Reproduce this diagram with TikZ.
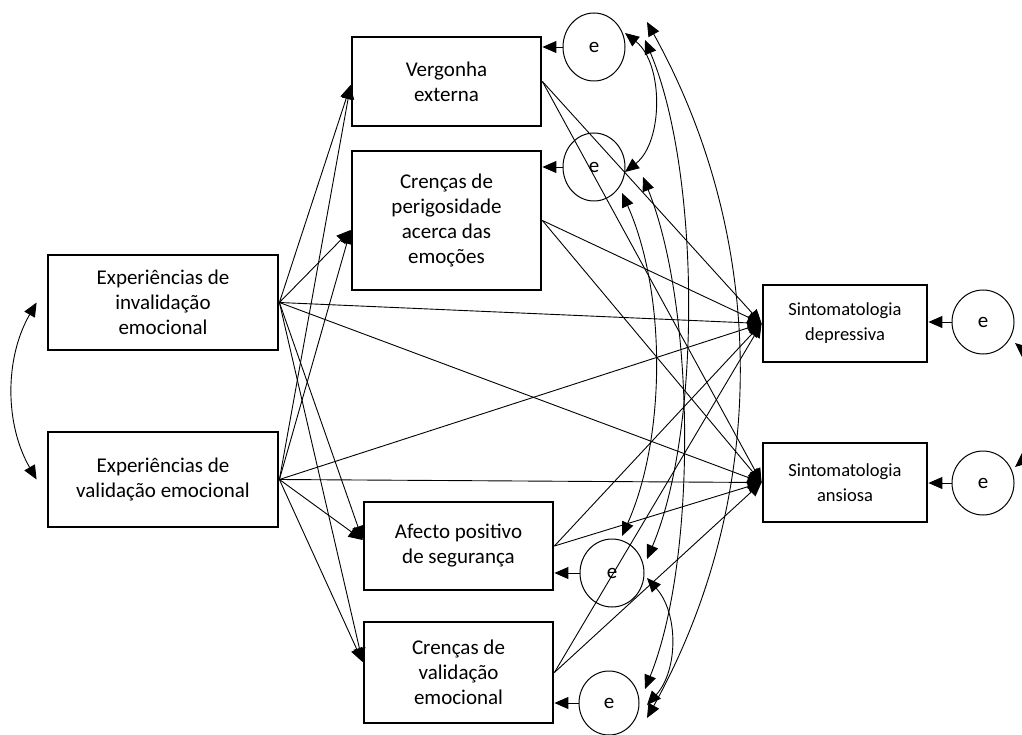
\documentclass[tikz,border=0pt]{standalone}
\usepackage{fontspec}
\setmainfont{Carlito}
\usetikzlibrary{arrows.meta,shapes.geometric,calc}

\begin{document}
\begin{tikzpicture}[x=1pt,y=-1pt,
  tip/.tip={Triangle[length=14pt,width=12pt]},
  box/.style={draw, line width=2.8pt, inner sep=0pt, align=center,
    font=\fontsize{21}{25}\selectfont},
  outbox/.style={box, font=\fontsize{18.5}{25}\selectfont},
  err/.style={draw, ellipse, line width=1pt, inner sep=0pt,
    font=\fontsize{21}{24}\selectfont},
  reg/.style={line width=0.9pt, -tip},
  cov/.style={line width=0.9pt, tip-tip},
]
\fill[white] (0,0) rectangle (1022,735);
\useasboundingbox (0,0) rectangle (1022,735);

% exogenous variables
\node[box, minimum width=230pt, minimum height=95pt] (inv) at (163,302.5)
  {Experiências de\\invalidação\\emocional};
\node[box, minimum width=230pt, minimum height=95pt] (val) at (163,479.5)
  {Experiências de\\validação emocional};

% mediators
\node[box, minimum width=189pt, minimum height=89pt] (verg) at (446.5,81.5)
  {Vergonha\\externa};
\node[box, minimum width=189pt, minimum height=139pt] (per) at (446.5,220.5)
  {Crenças de\\perigosidade\\acerca das\\emoções};
\node[box, minimum width=189pt, minimum height=88pt] (afe) at (458.5,546)
  {Afecto positivo\\de segurança};
\node[box, minimum width=189pt, minimum height=101pt] (cval) at (458.5,672.5)
  {Crenças de\\validação\\emocional};

% outcomes
\node[outbox, minimum width=164pt, minimum height=77pt] (dep) at (845,323.5)
  {Sintomatologia\\depressiva};
\node[outbox, minimum width=164pt, minimum height=79pt] (ans) at (845,482.5)
  {Sintomatologia\\ansiosa};

% residual terms
\node[err, minimum width=62pt, minimum height=68pt] (e1) at (594,47) {e};
\node[err, minimum width=62pt, minimum height=68pt] (e2) at (594,167) {e};
\node[err, minimum width=64pt, minimum height=68pt] (e3) at (612,573) {e};
\node[err, minimum width=60pt, minimum height=64pt] (e4) at (609,703) {e};
\node[err, minimum width=62pt, minimum height=64pt] (e5) at (983,322) {e};
\node[err, minimum width=62pt, minimum height=64pt] (e6) at (983,483) {e};

% residuals into their variables
\draw[reg] (e1.west) -- (e1.west -| verg.east);
\draw[reg] (e2.west) -- (e2.west -| per.east);
\draw[reg] (e3.west) -- (e3.west -| afe.east);
\draw[reg] (e4.west) -- (e4.west -| cval.east);
\draw[reg] (e5.west) -- (e5.west -| dep.east);
\draw[reg] (e6.west) -- (e6.west -| ans.east);

% direct paths from the two exogenous variables
\foreach \s in {inv,val}{
  \draw[reg] (\s.east) -- ([yshift=-3.5pt]verg.west);
  \draw[reg] (\s.east) -- ([yshift=-9.5pt]per.west);
  \draw[reg] (\s.east) -- ([yshift=6pt]afe.west);
  \draw[reg] (\s.east) -- ([yshift=10.5pt]cval.west);
  \draw[reg] (\s.east) -- (dep.west);
  \draw[reg] (\s.east) -- (ans.west);
}

% mediators to outcomes
\foreach \m in {verg,per,afe,cval}{
  \draw[reg] (\m.east) -- (dep.west);
  \draw[reg] (\m.east) -- (ans.west);
}

% covariance of the exogenous variables
\draw[cov] ([xshift=-10pt]inv.west) to[out=240,in=120,distance=64pt]
  ([xshift=-10pt]val.west);

% ends of the residual covariances
\coordinate (a1) at ($(e1)+(31,-14)$);
\coordinate (b1) at ($(e1)+(51,-7)$);
\coordinate (c1) at ($(e1)+(53,-25)$);
\coordinate (a2) at ($(e2)+(31,5)$);
\coordinate (d2) at ($(e2)+(49,10)$);
\coordinate (f2) at ($(e2)+(28,26)$);
\coordinate (f3) at ($(e3)+(10,-37)$);
\coordinate (b3) at ($(e3)+(35,-14)$);
\coordinate (g3) at ($(e3)+(35,5)$);
\coordinate (d4) at ($(e4)+(36,-14)$);
\coordinate (g4) at ($(e4)+(38,2)$);
\coordinate (c4) at ($(e4)+(38,15)$);

\draw[cov] (a1) to[out=-38,in=38,distance=49pt] (a2);
\draw[cov] (b1) to[out=-67,in=67,distance=141pt] (b3);
\draw[cov] (c1) to[out=-61,in=61,distance=252pt] (c4);
\draw[cov] (d2) to[out=-68,in=68,distance=140pt] (d4);
\draw[cov] (f2) to[out=-66,in=66,distance=109pt] (f3);
\draw[cov] (g3) to[out=-48,in=48,distance=47pt] (g4);

% covariance of the outcome residuals, running past the right edge
\begin{scope}
  \clip (0,0) rectangle (1022,735);
  \coordinate (h5) at ($(e5)+(32,21)$);
  \coordinate (h6) at ($(e6)+(32,-16)$);
  \draw[cov] (h5) to[out=-40,in=40,distance=70pt] (h6);
\end{scope}
\end{tikzpicture}
\end{document}
